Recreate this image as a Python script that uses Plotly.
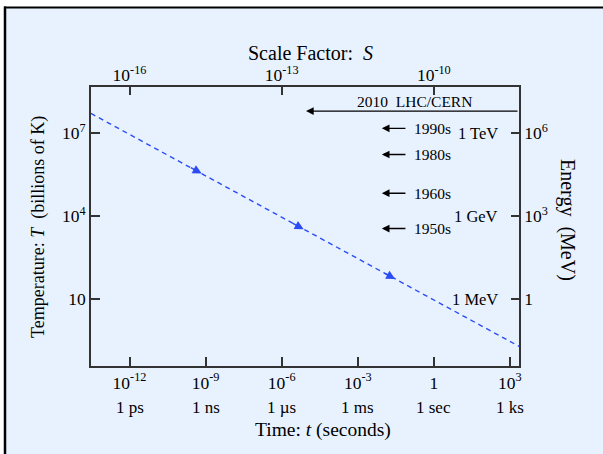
import math
import plotly.graph_objects as go

# ---------------- data ----------------
# dashed cooling curve: time (s) vs temperature (billions of K)
curve_t = [3.0e-14, 2.3e3]
curve_T = [5.2e7, 0.20]
# direction arrows along the curve (arrow tips)
flow_t = [7.0e-10, 7.4e-6, 3.0e-2]
flow_T = [3.5e5, 3.4e3, 54]

# accelerator eras (temperature reached, billions of K)
era_labels = ["1950s", "1960s", "1980s", "1990s"]
era_T = [3.6e3, 6.8e4, 1.7e6, 1.5e7]
lhc_label = "2010  LHC/CERN"
lhc_T = 6.3e7

# axes
time_ticks = [1e-12, 1e-9, 1e-6, 1e-3, 1, 1e3]
time_text = ["10<sup>-12</sup>", "10<sup>-9</sup>", "10<sup>-6</sup>", "10<sup>-3</sup>", "1", "10<sup>3</sup>"]
time_units = ["1 ps", "1 ns", "1 µs", "1 ms", "1 sec", "1 ks"]
scale_ticks = [1e-16, 1e-13, 1e-10]
scale_text = ["10<sup>-16</sup>", "10<sup>-13</sup>", "10<sup>-10</sup>"]
temp_ticks = [10, 1e4, 1e7]
temp_text = ["10", "10<sup>4</sup>", "10<sup>7</sup>"]
energy_ticks = [1, 1e3, 1e6]
energy_text = ["1", "10<sup>3</sup>", "10<sup>6</sup>"]
energy_names = ["1 MeV", "1 GeV", "1 TeV"]

# ---------------- style ----------------
BG = "#E8F2FE"
AX = "#333333"
BLUE = "#2B4CF5"
FONT = "Liberation Serif"
W, H = 603, 454
ML, MR, MT, MB = 91, 84, 87, 88
PW, PH = W - ML - MR, H - MT - MB


def px2paper_x(px):
    return (px - ML) / PW


def px2paper_y(py):
    return (H - MB - py) / PH


fig = go.Figure()

fig.add_trace(go.Scatter(
    x=curve_t, y=curve_T, mode="lines",
    line=dict(color=BLUE, width=1.4, dash="5px,4px"),
    hoverinfo="skip", showlegend=False))

# invisible trace for secondary axes
fig.add_trace(go.Scatter(x=[1e-12], y=[1], xaxis="x2", yaxis="y2",
                         mode="markers", marker=dict(opacity=0),
                         hoverinfo="skip", showlegend=False))

ann = []
# flow arrows on the curve (screen direction of the curve ~28.5 deg)
ang = math.radians(28.5)
for t, T in zip(flow_t, flow_T):
    ann.append(dict(x=math.log10(t), y=math.log10(T), xref="x", yref="y",
                    ax=-14 * math.cos(ang), ay=-14 * math.sin(ang),
                    axref="pixel", ayref="pixel", text="", showarrow=True,
                    arrowhead=2, arrowsize=1.2, arrowwidth=1.5, arrowcolor=BLUE,
                    standoff=0, startstandoff=0))

# era arrows
tip_x, tail_x, lab_x = -2.05, -1.06, -0.87
for lab, T in zip(era_labels, era_T):
    ly = math.log10(T)
    ann.append(dict(x=tip_x, y=ly, ax=tail_x, ay=ly, xref="x", yref="y",
                    axref="x", ayref="y", text="", showarrow=True,
                    arrowhead=2, arrowsize=1.1, arrowwidth=1.4, arrowcolor="black",
                    standoff=0, startstandoff=0))
    ann.append(dict(x=lab_x, y=ly, xref="x", yref="y", text=lab, showarrow=False,
                    xanchor="left", yanchor="middle",
                    font=dict(family=FONT, size=15.5, color="black")))
# LHC arrow
ly = math.log10(lhc_T)
ann.append(dict(x=-5.04, y=ly, ax=3.36, ay=ly, xref="x", yref="y",
                axref="x", ayref="y", text="", showarrow=True,
                arrowhead=2, arrowsize=1.1, arrowwidth=1.4, arrowcolor="black",
                standoff=0, startstandoff=0))
ann.append(dict(x=-0.77, y=ly, xref="x", yref="y", yshift=10, text=lhc_label,
                showarrow=False, xanchor="center", yanchor="middle",
                font=dict(family=FONT, size=15.5, color="black")))
# energy names inside right axis
for nm, e in zip(energy_names, energy_ticks):
    ann.append(dict(x=1, y=math.log10(e), xref="paper", yref="y2", xshift=-19,
                    text=nm, showarrow=False, xanchor="right", yanchor="middle",
                    font=dict(family=FONT, size=16.5, color="black")))
# time units second row
for u, t in zip(time_units, time_ticks):
    ann.append(dict(x=math.log10(t), y=px2paper_y(407), xref="x", yref="paper",
                    text=u, showarrow=False, xanchor="center", yanchor="middle",
                    font=dict(family=FONT, size=17, color="black")))
# titles
ann.append(dict(x=px2paper_x(323), y=px2paper_y(430), xref="paper", yref="paper",
                text="Time: <i>t</i> (seconds)", showarrow=False,
                xanchor="center", yanchor="middle",
                font=dict(family=FONT, size=19.5, color="black")))
ann.append(dict(x=px2paper_x(310), y=px2paper_y(53), xref="paper", yref="paper",
                text="Scale Factor:  <i>S</i>", showarrow=False,
                xanchor="center", yanchor="middle",
                font=dict(family=FONT, size=20, color="black")))
ann.append(dict(x=px2paper_x(38), y=px2paper_y(227), xref="paper", yref="paper",
                text="Temperature: <i>T</i>  (billions of K)", showarrow=False,
                textangle=-90, xanchor="center", yanchor="middle",
                font=dict(family=FONT, size=18, color="black")))
ann.append(dict(x=px2paper_x(567), y=px2paper_y(220), xref="paper", yref="paper",
                text="Energy  (MeV)", showarrow=False,
                textangle=90, xanchor="center", yanchor="middle",
                font=dict(family=FONT, size=20, color="black")))

shapes = [
    dict(type="rect", xref="paper", yref="paper", layer="below",
         x0=px2paper_x(5), x1=px2paper_x(W + 5), y0=px2paper_y(7), y1=px2paper_y(H + 5),
         fillcolor=BG, line=dict(width=0)),
    dict(type="line", xref="paper", yref="paper",
         x0=px2paper_x(4), x1=px2paper_x(W + 5), y0=px2paper_y(7.5), y1=px2paper_y(7.5),
         line=dict(color="black", width=2)),
    dict(type="line", xref="paper", yref="paper",
         x0=px2paper_x(5), x1=px2paper_x(5), y0=px2paper_y(6.5), y1=px2paper_y(H + 5),
         line=dict(color="black", width=2.5)),
]

tickfont = dict(family=FONT, size=17.5, color="black")
common = dict(type="log", showgrid=False, zeroline=False, showline=True,
              linecolor=AX, linewidth=1.6, ticks="inside", tickcolor=AX,
              tickwidth=1.5, tickfont=tickfont, fixedrange=True)

fig.update_layout(
    width=W, height=H,
    margin=dict(l=ML, r=MR, t=MT, b=MB),
    paper_bgcolor="white", plot_bgcolor=BG,
    font=dict(family=FONT, color="black"),
    showlegend=False,
    xaxis=dict(**common, range=[-13.52, 3.36], tickvals=time_ticks, ticktext=time_text,
               ticklen=9, mirror=True),
    yaxis=dict(**common, range=[-1.41, 8.67], tickvals=temp_ticks, ticktext=temp_text,
               ticklen=9, mirror=True),
    xaxis2=dict(**common, range=[-16.76, -8.32], tickvals=scale_ticks, ticktext=scale_text,
                ticklen=8, overlaying="x", side="top", anchor="y",
                ticklabelstandoff=-3),
    yaxis2=dict(**common, range=[-2.41, 7.67], tickvals=energy_ticks, ticktext=energy_text,
                ticklen=8, overlaying="y", side="right", anchor="x"),
    annotations=ann,
    shapes=shapes,
)

fig.write_html("out.html")
